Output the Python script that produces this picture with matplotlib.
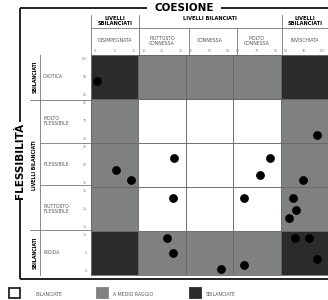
import numpy as np
import matplotlib
matplotlib.use("Agg")
import matplotlib.pyplot as plt
import matplotlib.patches as patches
from matplotlib.transforms import blended_transform_factory

# Scale bounds (scores) for the five levels of each dimension
coh_bounds = [0, 15, 35, 65, 85, 100]
flex_bounds = [0, 15, 35, 65, 85, 100]

coh_levels = ["DISIMPEGNATA", "PIUTTOSTO\nCONNESSA", "CONNESSA",
              "MOLTO\nCONNESSA", "INVISCHIATA"]
flex_levels = ["RIGIDA", "PIUTTOSTO\nFLESSIBILE", "FLESSIBILE",
               "MOLTO\nFLESSIBILE", "CAOTICA"]

# tick labels inside each column / row (low, mid, high)
coh_ticks = [["0", "5", "15"], ["15", "25", "35"], ["35", "50", "65"],
             ["65", "75", "85"], ["85", "95", "100"]]
flex_ticks = [["0", "5", "15"], ["15", "25", "35"], ["35", "50", "65"],
              ["65", "75", "85"], ["85", "95", "100"]]

# 0 = bilanciate, 1 = a medio raggio, 2 = sbilanciate  (rows bottom->top)
cell_type = [
    [2, 1, 1, 1, 2],
    [1, 0, 0, 0, 1],
    [1, 0, 0, 0, 1],
    [1, 0, 0, 0, 1],
    [2, 1, 1, 1, 2],
]

# family scores
coesione = [2, 8, 12.5, 30, 80.5, 76.5, 96.5, 92, 29.5, 69.5, 89, 90, 87.5,
            27, 29.5, 57, 69.5, 89.5, 94, 96.5]
flessibilita = [91, 46.5, 40, 54.5, 54.5, 43, 68.5, 40, 30, 30, 30, 24.5, 21,
                12.5, 7.5, 2, 3.5, 12.5, 12.5, 5.5]

W, H = 328, 300
fig = plt.figure(figsize=(W / 100, H / 100), dpi=100)
fig.patch.set_facecolor("white")

# overlay in pixel coordinates for frame, headers and legend
ov = fig.add_axes([0, 0, 1, 1])
ov.set_xlim(0, W)
ov.set_ylim(H, 0)
ov.axis("off")

gx0, gx1, gy0, gy1 = 91, 328, 55, 275
ax = fig.add_axes([gx0 / W, (H - gy1) / H, (gx1 - gx0) / W, (gy1 - gy0) / H])

grid = np.arange(6)


def fwd_c(v):
    return np.interp(v, coh_bounds, grid)


def inv_c(v):
    return np.interp(v, grid, coh_bounds)


def fwd_f(v):
    return np.interp(v, flex_bounds, grid)


def inv_f(v):
    return np.interp(v, grid, flex_bounds)


ax.set_xscale("function", functions=(fwd_c, inv_c))
ax.set_yscale("function", functions=(fwd_f, inv_f))

dark, mid = "#2b2b2b", "#7f8180"
fills = ["white", mid, dark]
for j in range(5):
    for i in range(5):
        x0, x1 = coh_bounds[i], coh_bounds[i + 1]
        y0, y1 = flex_bounds[j], flex_bounds[j + 1]
        ax.add_patch(patches.Rectangle((x0, y0), x1 - x0, y1 - y0,
                                       facecolor=fills[cell_type[j][i]],
                                       edgecolor="#666666", lw=0.6))
ax.scatter(coesione, flessibilita, s=40, color="black", zorder=3, linewidths=0)
ax.set_xlim(0, 100)
ax.set_ylim(0, 100)
ax.set_xticks([])
ax.set_yticks([])
for s in ax.spines.values():
    s.set_color("#666666")
    s.set_linewidth(0.6)

gray_txt = "#555555"
small = 3.3

# column names and ticks
xt = blended_transform_factory(ax.transData, ov.transData)
for i, name in enumerate(coh_levels):
    cx = inv_c(i + 0.5)
    ov.text(cx, 41, name, transform=xt, ha="center", va="center",
            fontsize=small, color=gray_txt, linespacing=0.9)
    t = coh_ticks[i]
    ov.text(inv_c(i + 0.06), 51.5, t[0], transform=xt, ha="left", va="center",
            fontsize=2.4, color="#888888")
    ov.text(cx, 51.5, t[1], transform=xt, ha="center", va="center",
            fontsize=2.4, color="#888888")
    ov.text(inv_c(i + 0.94), 51.5, t[2], transform=xt, ha="right", va="center",
            fontsize=2.4, color="#888888")

# row names and ticks
yt = blended_transform_factory(ov.transData, ax.transData)
for j, name in enumerate(flex_levels):
    cy = inv_f(j + 0.5)
    ov.text(43, cy, name, transform=yt, ha="left", va="center",
            fontsize=small, color=gray_txt, linespacing=0.9)
    t = flex_ticks[j]
    ov.text(87, inv_f(j + 0.04), t[0], transform=yt, ha="right", va="bottom",
            fontsize=2.4, color="#888888")
    ov.text(87, cy, t[1], transform=yt, ha="right", va="center",
            fontsize=2.4, color="#888888")
    ov.text(87, inv_f(j + 0.96), t[2], transform=yt, ha="right", va="top",
            fontsize=2.4, color="#888888")

# header lines
lc = "#777777"
for x in [91, 139, 282]:
    ov.plot([x, x], [15, 55], color=lc, lw=0.6)
for x in [189, 237]:
    ov.plot([x, x], [28, 55], color=lc, lw=0.6)
ov.plot([91, 328], [28, 28], color=lc, lw=0.6)

ov.text(115, 21, "LIVELLI\nSBILANCIATI", ha="center", va="center",
        fontsize=3.6, fontweight="bold", linespacing=0.95)
ov.text(210, 18.5, "LIVELLI BILANCIATI", ha="center", va="center",
        fontsize=3.6, fontweight="bold")
ov.text(305, 21, "LIVELLI\nSBILANCIATI", ha="center", va="center",
        fontsize=3.6, fontweight="bold", linespacing=0.95)

# left side lines
ov.plot([40, 40], [55, 275], color=lc, lw=0.6)
for y in [100, 230]:
    ov.plot([30, 91], [y, y], color=lc, lw=0.6)
for y in [143, 185]:
    ov.plot([40, 91], [y, y], color=lc, lw=0.6)

ov.text(35, 77, "SBILANCIATI", rotation=90, ha="center", va="center",
        fontsize=3.4, fontweight="bold")
ov.text(35, 165, "LIVELLI BILANCIATI", rotation=90, ha="center", va="center",
        fontsize=3.4, fontweight="bold")
ov.text(35, 253, "SBILANCIATI", rotation=90, ha="center", va="center",
        fontsize=3.4, fontweight="bold")

# outer frame with titles
fk = dict(color="#222222", lw=1.4, solid_capstyle="butt")
ov.plot([20, 147], [8, 8], **fk)
ov.plot([221, 328], [8, 8], **fk)
ov.plot([20, 20], [8, 122], **fk)
ov.plot([20, 20], [200, 279], **fk)
ov.plot([20, 328], [279, 279], **fk)
ov.text(184, 8, "COESIONE", ha="center", va="center", fontsize=7.5,
        fontweight="bold")
ov.text(20, 161, "FLESSIBILITÀ", rotation=90, ha="center", va="center",
        fontsize=7.5, fontweight="bold")

# legend
legend_items = [("BILANCIATE", "white", 9), ("A MEDIO RAGGIO", mid, 97),
                ("SBILANCIATE", dark, 190)]
for label, col, x in legend_items:
    ov.add_patch(patches.Rectangle((x, 288), 11, 10, facecolor=col,
                                   edgecolor="#222222" if col == "white" else col,
                                   lw=1.3))
    ov.text(x + (26 if col == "white" else 16), 294, label, ha="left",
            va="center", fontsize=small, color=gray_txt)

plt.savefig("out.png", dpi=100, facecolor="white")
plt.close()
